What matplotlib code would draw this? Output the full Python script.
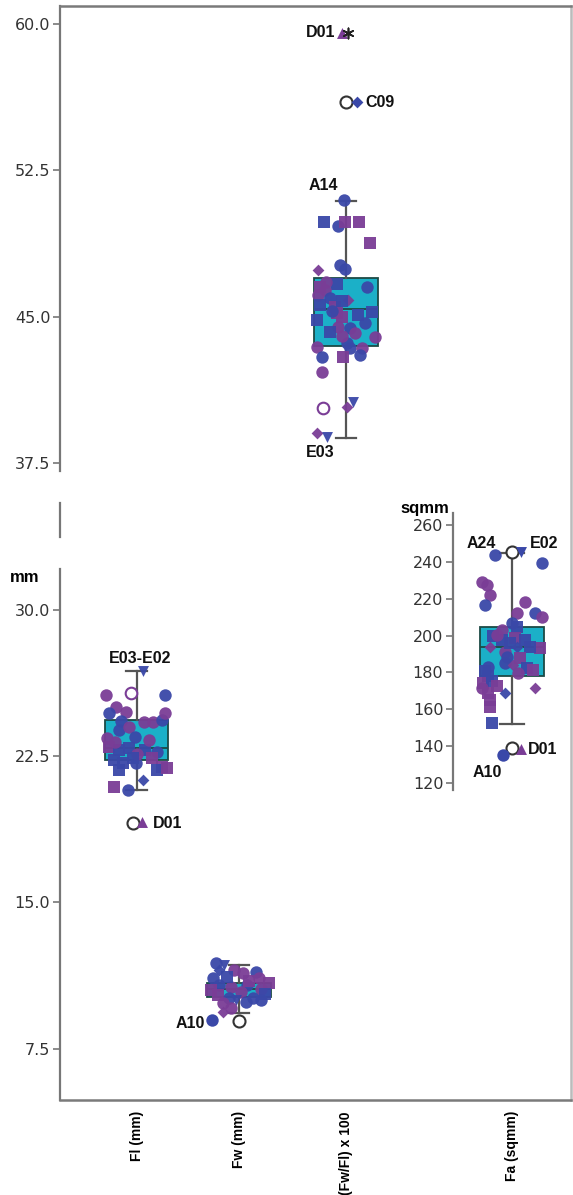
import numpy as np
import matplotlib.pyplot as plt

# colours
BLUE = '#3a48a8'
PURPLE = '#7a3d96'
BOXFILL = '#1bb0c8'

# ---- data (jitter given in px inside a 32px half box, values in axis units) ----
# Fl (mm)
fl_jit = [-31, -6, 29, -21, -28, -11, -16, 7, 17, 26, 29, -18, -8, -2, -28, -18, -8, 8, 12, 21,
          -23, -14, -1, 26, -18, 21, 31, 6, -23, -9, 6, -30, -22, 0, 16, -4]
fl_val = [25.62, 25.71, 25.62, 25.03, 24.69, 24.77, 24.30, 24.26, 24.26, 24.34, 24.69, 23.83, 24.00,
          23.50, 22.98, 22.81, 22.90, 22.81, 23.32, 22.72, 22.30, 22.13, 22.13, 21.96, 21.78, 21.78,
          21.87, 21.27, 20.93, 20.76, 26.87, 23.40, 23.20, 22.60, 22.40, 22.40]
fl_code = ['po', 'pO', 'bo', 'po', 'bo', 'po', 'bo', 'po', 'po', 'bo', 'po', 'bo', 'po',
           'bo', 'ps', 'bs', 'bs', 'bs', 'po', 'bo', 'bs', 'bs', 'bo', 'ps', 'bs', 'bs',
           'ps', 'bD', 'ps', 'bo', 'bv', 'po', 'po', 'po', 'ps', 'bs']

# Fw (mm)
fw_jit = [-23, -20, -15, -5, 4, 17, 20, -26, 30, -20, -8, 8, 22, -21, -10, 2, 14, -16, -3, -8,
          -16, 7, 22, -28, 26, -12, 10]
fw_val = [11.88, 11.55, 11.79, 11.54, 11.37, 11.45, 11.11, 11.11, 10.85, 10.77, 10.65, 10.75, 10.55,
          10.26, 10.10, 10.40, 10.10, 9.83, 10.00, 9.58, 9.40, 9.90, 10.00, 10.50, 10.30, 11.20, 11.00]
fw_code = ['bo', 'bD', 'bv', 'po', 'po', 'bo', 'po', 'bo', 'ps', 'bo', 'po', 'bo', 'po',
           'ps', 'bo', 'po', 'bo', 'po', 'bv', 'po', 'pD', 'bo', 'bo', 'ps', 'bs', 'bs', 'ps']

# (Fw/Fl) x 100
ix_jit = [-2, -22, -8, -1, 13, 24, -6, -1, -28, -26, -9, -21, 21, -28, -16, 2, -26, -11, -9, -4,
          12, 26, -29, 19, -8, -16, 4, 9, 29, -29, 1, 4, 16, -24, -3, 14, -24, -23, 1, 7, -29, -19,
          -20, -14, -4, -4]
ix_val = [50.98, 49.87, 49.65, 49.87, 49.87, 48.80, 47.65, 47.45, 47.40, 46.54, 46.70, 46.37, 46.54,
          46.10, 45.95, 45.86, 45.60, 45.52, 45.18, 45.00, 45.09, 45.26, 44.84, 44.67, 44.50, 44.24,
          44.41, 44.16, 43.98, 43.47, 43.64, 43.38, 43.38, 42.96, 42.96, 43.04, 42.19, 40.31, 40.39,
          40.65, 39.03, 38.86, 46.80, 45.30, 44.00, 45.80]
ix_code = ['bo', 'bs', 'bo', 'ps', 'ps', 'ps', 'bo', 'bo', 'pD', 'ps', 'bs', 'po', 'bo',
           'po', 'bo', 'pD', 'bs', 'ps', 'ps', 'ps', 'bs', 'bs', 'bs', 'bo', 'po', 'bs',
           'bo', 'po', 'po', 'po', 'bo', 'bo', 'po', 'bo', 'ps', 'bo', 'po', 'pO', 'pD',
           'bv', 'pD', 'bv', 'po', 'bo', 'po', 'bs']

# Fa (sqmm)
fa_jit = [-17, 30, -30, -25, -22, -27, 13, 23, 30, 5, 0, 5, -10, -19, -10, 3, 13, -22, 28, 5, 18,
          -7, -5, 8, -7, 1, -24, 15, 21, 6, -27, -24, -29, -20, -15, 23, -7, -24, -22, -22, -20,
          -30, -15, -2]
fa_val = [243.7, 239.2, 229.3, 227.5, 222.1, 216.6, 218.4, 212.1, 210.3, 212.1, 206.7, 204.9, 203.1,
          199.5, 197.7, 198.6, 197.7, 194.0, 193.2, 194.0, 194.0, 191.3, 188.6, 187.7, 185.0, 184.1,
          183.2, 182.3, 181.4, 179.6, 180.5, 177.8, 174.2, 175.1, 172.4, 171.5, 168.8, 168.8, 165.1,
          161.5, 152.5, 171.5, 200.5, 196.0]
fa_code = ['bo', 'bo', 'po', 'po', 'po', 'bo', 'po', 'bo', 'po', 'po', 'bo', 'bs', 'po',
           'bs', 'bs', 'ps', 'bs', 'pD', 'ps', 'bD', 'bs', 'po', 'bo', 'ps', 'bo', 'pD',
           'bo', 'bs', 'ps', 'po', 'bs', 'bs', 'ps', 'bs', 'ps', 'pD', 'bD', 'ps', 'ps',
           'ps', 'bs', 'po', 'po', 'bs']

# box statistics: q1, median, q3, lower whisker, upper whisker
main_names = ['Fl (mm)', 'Fw (mm)', '(Fw/Fl) x 100']
main_q1 = [22.3, 10.17, 43.5]
main_med = [22.9, 10.56, 45.38]
main_q3 = [24.34, 10.86, 47.0]
main_lo = [20.76, 9.32, 38.78]
main_hi = [26.87, 11.79, 50.95]
fa_q1, fa_med, fa_q3, fa_lo, fa_hi = 177.8, 193.7, 204.5, 152.1, 244.7

# layout
main_pos = [0.75, 1.75, 2.8]
fa_label_pos = 4.42
half_main = 0.31
half_fa = 0.27

plt.rcParams['font.family'] = ['DejaVu Sans']

fig = plt.figure(figsize=(5.73, 11.95), dpi=100)
ax = fig.add_axes([60 / 573, 1 - 1100 / 1195, 511 / 573, 1094 / 1195])
ax.set_xlim(0, 5)
ax.set_ylim(4.88, 60.92)

colmap = {'b': BLUE, 'p': PURPLE}
sizes = {'o': 80, 's': 66, 'D': 36, 'v': 62, '^': 62, 'O': 70}


def scatter_group(a, center, half, jit, val, code):
    for j, v, c in zip(jit, val, code):
        x = center + j / 32 * half
        col = colmap[c[0]]
        m = c[1]
        if m == 'O':
            a.scatter(x, v, s=sizes[m], marker='o', facecolors='white', edgecolors=col,
                      linewidths=1.5, zorder=4)
        else:
            a.scatter(x, v, s=sizes[m], marker=m, color=col, linewidths=0, alpha=0.95, zorder=4)


def draw_box(a, stats, pos, half, capw):
    a.bxp(stats, positions=pos, widths=2 * half, patch_artist=True, showfliers=False,
          manage_ticks=False, capwidths=capw,
          boxprops=dict(facecolor=BOXFILL, edgecolor='#1d4a45', linewidth=1.3),
          medianprops=dict(color='#1d4a45', linewidth=1.3),
          whiskerprops=dict(color='#555555', linewidth=1.6),
          capprops=dict(color='#555555', linewidth=1.6), zorder=2)


stats = []
for i in range(3):
    stats.append(dict(q1=main_q1[i], med=main_med[i], q3=main_q3[i],
                      whislo=main_lo[i], whishi=main_hi[i], fliers=[]))
draw_box(ax, stats, main_pos, half_main, 0.2)

scatter_group(ax, main_pos[0], half_main, fl_jit, fl_val, fl_code)
scatter_group(ax, main_pos[1], half_main, fw_jit, fw_val, fw_code)
scatter_group(ax, main_pos[2], half_main, ix_jit, ix_val, ix_code)

# outliers (open circles / extreme) with their cases
def outlier(a, x, v):
    a.scatter(x, v, s=75, marker='o', facecolors='white', edgecolors='#333333', linewidths=1.5, zorder=5)

outlier(ax, main_pos[0] - 0.04, 19.08)
ax.scatter(main_pos[0] + 0.05, 19.14, s=62, marker='^', color=PURPLE, linewidths=0, zorder=5)
outlier(ax, main_pos[1], 8.94)
ax.scatter(main_pos[1] - 0.26, 8.98, s=80, marker='o', color=BLUE, linewidths=0, zorder=5)
outlier(ax, main_pos[2], 56.0)
ax.scatter(main_pos[2] + 0.11, 56.0, s=36, marker='D', color=BLUE, linewidths=0, zorder=5)
ax.scatter(main_pos[2] - 0.04, 59.54, s=62, marker='^', color=PURPLE, linewidths=0, zorder=5)
ax.scatter(main_pos[2] + 0.02, 59.54, s=55, marker=(6, 2, 0), color='#222222', linewidths=1.2, zorder=6)

lab = dict(fontsize=11.5, fontweight='bold', family='Liberation Sans', color='#111111', va='center')
ax.text(2.69, 59.54, 'D01', ha='right', **lab)
ax.text(2.99, 56.0, 'C09', ha='left', **lab)
ax.text(2.72, 51.7, 'A14', ha='right', **lab)
ax.text(2.55, 38.07, 'E03', ha='center', **lab)
ax.text(0.78, 27.52, 'E03-E02', ha='center', **lab)
ax.text(0.91, 19.02, 'D01', ha='left', **lab)
ax.text(1.42, 8.82, 'A10', ha='right', **lab)

# axes styling
ax.spines['left'].set_visible(False)
for s in ['top', 'bottom', 'right']:
    ax.spines[s].set_color('#7a7a7a')
    ax.spines[s].set_linewidth(1.8)
ax.spines['right'].set_color('#bbbbbb')
trans = ax.get_yaxis_transform()
for y0, y1 in [(37.1, 60.92), (33.7, 35.45), (4.88, 32.1)]:
    ax.plot([0, 0], [y0, y1], color='#777777', linewidth=1.6, transform=trans, clip_on=False)

ax.set_yticks([7.5, 15, 22.5, 30, 37.5, 45, 52.5, 60])
ax.set_yticklabels(['7.5', '15.0', '22.5', '30.0', '37.5', '45.0', '52.5', '60.0'])
ax.tick_params(axis='y', length=5, width=1.2, color='#777777', labelsize=11.5, labelcolor='#333333', pad=2)
ax.set_xticks(main_pos + [fa_label_pos])
ax.set_xticklabels(main_names + ['Fa (sqmm)'], rotation=90, fontsize=10, fontweight='bold',
                   family='Liberation Sans', va='top')
ax.tick_params(axis='x', length=0, pad=8)
fig.text(10 / 573, 1 - 577 / 1195, 'mm', fontsize=12, fontweight='bold', family='Liberation Sans',
         va='center', ha='left')

# inset for Fa
ax2 = fig.add_axes([453 / 573, 1 - 790 / 1195, 118 / 573, 277 / 1195])
ax2.patch.set_alpha(0)
ax2.set_xlim(0, 1)
ax2.set_ylim(116.2, 266.5)
for s in ['top', 'bottom', 'right']:
    ax2.spines[s].set_visible(False)
ax2.spines['left'].set_color('#777777')
ax2.spines['left'].set_linewidth(1.6)
ax2.set_xticks([])
ax2.set_yticks(np.arange(120, 261, 20))
ax2.tick_params(axis='y', length=5, width=1.2, color='#777777', labelsize=11.5, labelcolor='#333333', pad=2)

draw_box(ax2, [dict(q1=fa_q1, med=fa_med, q3=fa_q3, whislo=fa_lo, whishi=fa_hi, fliers=[])],
         [0.5], half_fa, 0.2)
scatter_group(ax2, 0.5, half_fa, fa_jit, fa_val, fa_code)
outlier(ax2, 0.5, 245.5)
ax2.scatter(0.58, 245.5, s=62, marker='v', color=BLUE, linewidths=0, zorder=5)
outlier(ax2, 0.5, 139.0)
ax2.scatter(0.58, 138.5, s=62, marker='^', color=PURPLE, linewidths=0, zorder=5)
ax2.scatter(0.42, 135.0, s=80, marker='o', color=BLUE, linewidths=0, zorder=5)
ax2.text(0.237, 250.2, 'A24', ha='center', **lab)
ax2.text(0.771, 250.2, 'E02', ha='center', **lab)
ax2.text(0.636, 138.0, 'D01', ha='left', **lab)
ax2.text(0.288, 125.6, 'A10', ha='center', **lab)
fig.text(400 / 573, 1 - 508 / 1195, 'sqmm', fontsize=12, fontweight='bold', family='Liberation Sans',
         va='center', ha='left')

fig.savefig('out.png', dpi=100)
